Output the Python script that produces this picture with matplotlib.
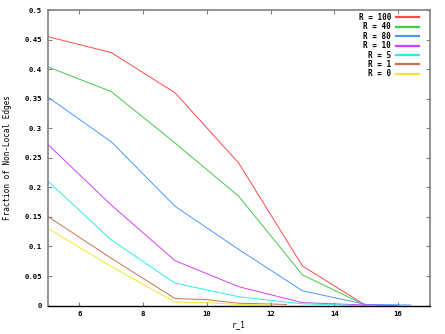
"""
Fraction of non-local edges vs r_1 for several R values (gnuplot-style look).
"""
import matplotlib
matplotlib.use("Agg")
import matplotlib.pyplot as plt

# ── Data ──────────────────────────────────────────────────────────────────────
LABELS = ["R = 100", "R = 40", "R = 80", "R = 10", "R = 5", "R = 1", "R = 0"]
COLORS = ["#ff4848", "#48c848", "#4898ff", "#d040ff", "#30eaea", "#cc7050", "#f0e830"]

r_100 = [5, 7, 9, 11, 13, 15]
f_100 = [0.455, 0.428, 0.360, 0.241, 0.067, 0.0]
r_40 = [5, 7, 9, 11, 13, 15]
f_40 = [0.404, 0.362, 0.275, 0.185, 0.052, 0.0]
r_80 = [5, 7, 9, 11, 13, 15, 16.4]
f_80 = [0.353, 0.277, 0.168, 0.095, 0.025, 0.002, 0.001]
r_10 = [5, 7, 9, 11, 13, 15, 16]
f_10 = [0.273, 0.170, 0.076, 0.032, 0.005, 0.001, 0.0]
r_5 = [5, 7, 9, 11, 13, 15]
f_5 = [0.211, 0.111, 0.038, 0.015, 0.003, 0.0]
r_1 = [5, 7, 9, 10, 11, 12.5]
f_1 = [0.151, 0.080, 0.012, 0.010, 0.004, 0.002]
r_0 = [5, 7, 9, 10, 11, 12]
f_0 = [0.131, 0.066, 0.006, 0.005, 0.002, 0.001]

SERIES = [(r_100, f_100), (r_40, f_40), (r_80, f_80), (r_10, f_10),
          (r_5, f_5), (r_1, f_1), (r_0, f_0)]

X_TICKS = [6, 8, 10, 12, 14, 16]
Y_TICKS = [0, 0.05, 0.1, 0.15, 0.2, 0.25, 0.3, 0.35, 0.4, 0.45, 0.5]
Y_TICKLABELS = ["0", "0.05", "0.1", "0.15", "0.2", "0.25", "0.3", "0.35", "0.4", "0.45", "0.5"]

# ── Plot ──────────────────────────────────────────────────────────────────────
plt.rcParams["font.family"] = "DejaVu Sans Mono"
plt.rcParams["font.weight"] = "bold"

fig = plt.figure(figsize=(4.45, 3.34), dpi=100)
ax = fig.add_axes([0.107, 0.085, 0.859, 0.885])

for (xs, ys), lab, col in zip(SERIES, LABELS, COLORS):
    ax.plot(xs, ys, color=col, lw=0.7, label=lab)

ax.set_xlim(5, 17)
ax.set_ylim(0, 0.5)
ax.set_xticks(X_TICKS)
ax.set_yticks(Y_TICKS)
ax.set_yticklabels(Y_TICKLABELS)

ax.tick_params(direction="in", length=3, width=0.8, color="#808080",
               labelsize=5.2, top=True, right=True, pad=4)
for s in ["left", "right", "top"]:
    ax.spines[s].set_color("#808080")
    ax.spines[s].set_linewidth(1.2)
ax.spines["bottom"].set_color("black")
ax.spines["bottom"].set_linewidth(1.0)

ax.set_xlabel("r_1", fontsize=5.5, labelpad=2)
ax.set_ylabel("Fraction of Non-Local Edges", fontsize=5.5, labelpad=9)

leg = ax.legend(loc="upper right", frameon=False, markerfirst=False,
                fontsize=5.5, handlelength=3.0, handletextpad=0.7,
                labelspacing=0.05, borderaxespad=0.0,
                bbox_to_anchor=(0.98, 1.0))
for t in leg.get_texts():
    t.set_ha("right")
for h in leg.get_lines():
    h.set_linewidth(1.6)

fig.savefig("out.png", dpi=100)
